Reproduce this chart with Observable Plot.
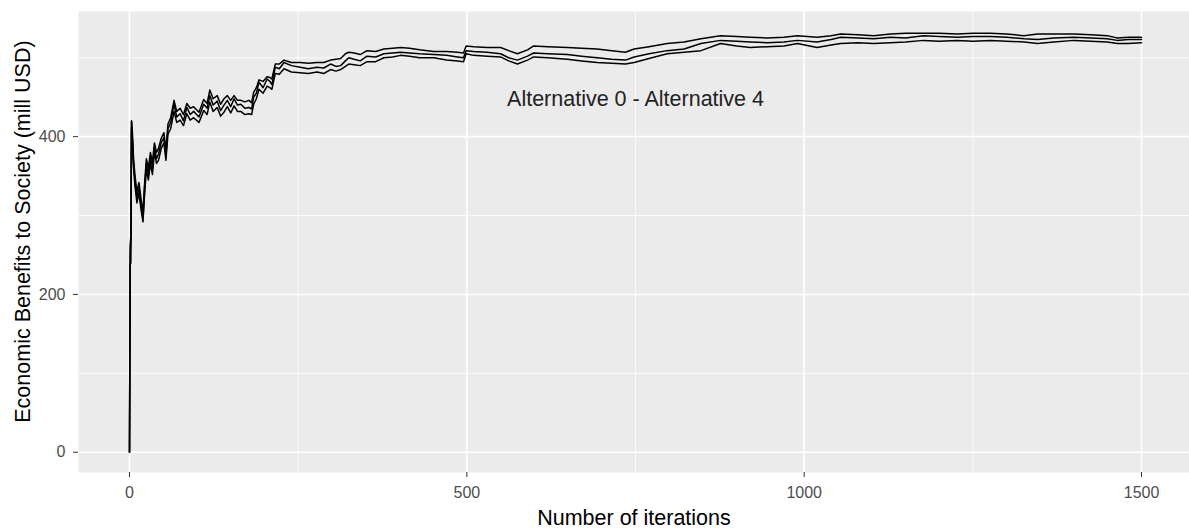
<!DOCTYPE html>
<html><head><meta charset="utf-8">
<script src="https://cdn.jsdelivr.net/npm/d3@7"></script>
<script src="https://cdn.jsdelivr.net/npm/@observablehq/plot@0.6"></script>
<style>body{margin:0;background:#fff} svg{display:block}</style>
</head><body><div id="chart"></div>
<script>
const iterations = [0,1,2,3,4,6,8,11,14,17,20,22,25,28,31,34,37,40,43,47,51,54,57,61,66,70,75,80,85,90,95,103,110,115,119,124,130,135,140,145,150,155,160,165,171,177,181,184,188,192,198,204,208,211,216,222,229,240,253,265,278,288,298,306,313,320,325,333,342,352,365,377,390,402,415,430,451,470,486,495,499,510,530,550,562,575,590,599,620,649,670,693,715,735,748,770,797,822,847,876,900,920,945,970,990,1019,1040,1054,1080,1103,1128,1150,1177,1200,1227,1250,1276,1300,1326,1346,1370,1400,1425,1449,1464,1480,1500];
const upper  = [0,262,275,420,410,372,352,330,342,322,303,336,372,360,380,368,392,380,385,398,405,383,416,424,446,432,436,428,442,436,438,431,447,442,459,448,452,441,448,452,446,452,446,446,444,446,443,456,462,472,470,476,475,473,492,492,497,494,494,493,494,494,497,498,499,505,507,506,504,509,508,511,512,513,512,510,508,508,507,506,515,514,513,513,509,505,510,515,514,513,512,511,509,507,511,514,518,520,524,528,527,526,525,526,528,526,528,530,529,528,530,531,531,531,530,531,531,530,528,530,530,530,529,528,525,526,526];
const middle = [0,250,270,419,405,366,345,323,335,315,296,330,366,352,374,360,387,372,378,392,399,376,410,418,441,425,429,420,437,428,432,425,441,436,452,440,445,433,440,446,438,448,440,441,436,437,435,450,455,469,462,473,470,466,488,486,494,490,488,486,488,487,492,489,490,496,500,498,496,502,501,505,506,507,506,505,504,503,501,500,509,508,507,505,500,497,502,506,505,504,502,500,498,497,501,505,509,511,518,522,521,520,519,520,522,520,523,526,525,524,526,525,528,527,526,527,527,526,524,523,525,526,525,524,522,523,523];
const lower  = [0,238,240,412,398,360,338,316,328,308,292,322,358,345,366,352,380,366,370,385,392,370,403,410,432,418,421,414,429,421,424,418,433,428,444,432,437,426,431,438,430,439,432,432,428,429,428,441,448,460,455,464,462,460,480,479,486,482,481,480,482,480,485,483,485,489,492,491,490,495,495,500,501,503,502,500,500,497,496,495,505,503,502,501,496,492,497,501,500,498,496,494,493,492,494,499,505,507,509,518,515,513,514,515,518,513,516,518,519,518,519,520,522,521,522,521,522,521,520,518,520,522,521,520,518,518,519];
const seriesNames = ["upper", "middle", "lower"];
const xMajorTicks = [0, 500, 1000, 1500];
const xMinorTicks = [250, 750, 1250];
const yMajorTicks = [0, 200, 400];
const yMinorTicks = [100, 300, 500];
const annotationText = ["Alternative 0 - Alternative 4"];
const annotationX = [750];
const annotationY = [447];
const xTitle = "Number of iterations";
const yTitle = "Economic Benefits to Society (mill USD)";

const rows = [];
[upper, middle, lower].forEach((vals, k) =>
  vals.forEach((v, i) => rows.push({series: seriesNames[k], iteration: iterations[i], value: v})));
const notes = annotationText.map((t, i) => ({text: t, x: annotationX[i], y: annotationY[i]}));

const font = "'Liberation Sans', Arial, sans-serif";
const plot = Plot.plot({
  width: 1189, height: 531,
  marginLeft: 78, marginRight: 0, marginTop: 11, marginBottom: 59,
  style: {fontFamily: font, fontSize: "16px", color: "#4D4D4D", background: "#fff", overflow: "visible"},
  x: {domain: [-75.6, 1571.1]},
  y: {domain: [-25.7, 558.6]},
  marks: [
    Plot.frame({fill: "#EBEBEB", stroke: null}),
    Plot.ruleX(xMinorTicks, {stroke: "#fff", strokeWidth: 0.8, strokeOpacity: 1}),
    Plot.ruleY(yMinorTicks, {stroke: "#fff", strokeWidth: 0.8, strokeOpacity: 1}),
    Plot.ruleX(xMajorTicks, {stroke: "#fff", strokeWidth: 1.6, strokeOpacity: 1}),
    Plot.ruleY(yMajorTicks, {stroke: "#fff", strokeWidth: 1.6, strokeOpacity: 1}),
    Plot.line(rows, {x: "iteration", y: "value", z: "series", stroke: "#000", strokeWidth: 1.5}),
    Plot.text(notes, {x: "x", y: "y", text: "text", fontSize: 21.5, fill: "#222", fontFamily: font}),
    Plot.axisX({ticks: xMajorTicks, tickFormat: d => String(d), tickSize: 5, tickPadding: 9, label: null, stroke: "#333"}),
    Plot.axisY({ticks: yMajorTicks, tickFormat: d => String(d), tickSize: 5, tickPadding: 8, label: null, stroke: "#333"}),
    Plot.text([xTitle], {frameAnchor: "bottom", dy: 52, fontSize: 21.5, fill: "#000", fontFamily: font}),
    Plot.text([yTitle], {x: () => -157, y: () => 279.7, rotate: -90, fontSize: 21.5, fill: "#000", fontFamily: font})
  ]
});
document.getElementById("chart").appendChild(plot);
</script>
</body></html>
